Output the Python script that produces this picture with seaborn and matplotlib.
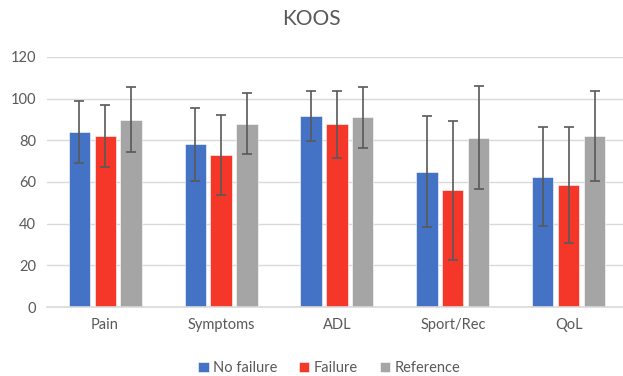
import pandas as pd
import matplotlib.pyplot as plt
import seaborn as sns

# 数据
categories = ['Pain', 'Symptoms', 'ADL', 'Sport/Rec', 'QoL']
groups = ['No failure', 'Failure', 'Reference']
no_failure = [84, 78, 91.6, 65, 62.6]
no_failure_sd = [15, 17.3, 11.8, 26.6, 23.8]
failure = [82, 73, 87.6, 56, 58.5]
failure_sd = [14.9, 19.3, 16.2, 33.3, 27.8]
reference = [89.8, 88, 91, 81.3, 82]
reference_sd = [15.5, 14.7, 14.7, 24.8, 21.7]
colors = ['#4472C4', '#F5372A', '#A5A5A5']

means = [no_failure, failure, reference]
sds = [no_failure_sd, failure_sd, reference_sd]
df = pd.DataFrame({
    'cat': categories * 3,
    'group': [g for g in groups for _ in categories],
    'value': sum(means, []),
    'sd': sum(sds, []),
})

sns.set_style('white')
plt.rcParams['font.family'] = ['Lato', 'DejaVu Sans']

fig = plt.figure(figsize=(6.23, 3.76), dpi=100)
ax = fig.add_axes([0.0755, 0.183, 0.9245, 0.666])

sns.barplot(data=df, x='cat', y='value', hue='group', palette=colors,
            saturation=1, width=0.672, gap=0.19, errorbar=None, ax=ax,
            zorder=2, edgecolor='white', linewidth=0.4)

# 误差线
bar_groups = list(ax.containers)
for i, cont in enumerate(bar_groups):
    xs = [p.get_x() + p.get_width() / 2 for p in cont.patches]
    ax.errorbar(xs, means[i], yerr=sds[i], fmt='none', ecolor='#595959',
                elinewidth=1.2, capsize=3.5, capthick=1.2, zorder=3)

ax.set_ylim(0, 120)
ax.set_xlim(-0.5, 4.466)
ax.set_yticks(range(0, 121, 20))
ax.grid(axis='y', color='#D9D9D9', linewidth=1, zorder=0)
for s in ['top', 'right', 'left']:
    ax.spines[s].set_visible(False)
ax.spines['bottom'].set_color('#D9D9D9')
ax.spines['bottom'].set_linewidth(1.2)
ax.tick_params(axis='both', length=0, labelsize=10.5, colors='#595959', pad=8)
ax.set_xlabel('')
ax.set_ylabel('')

fig.suptitle('KOOS', y=0.975, fontsize=15, color='#595959')

ax.legend(loc='lower center', bbox_to_anchor=(0.49, -0.325), ncol=3, frameon=False,
          fontsize=10.5, handlelength=0.7, handleheight=0.7, handletextpad=0.3,
          columnspacing=1.5, labelcolor='#595959')

plt.savefig('out.png', dpi=100)
